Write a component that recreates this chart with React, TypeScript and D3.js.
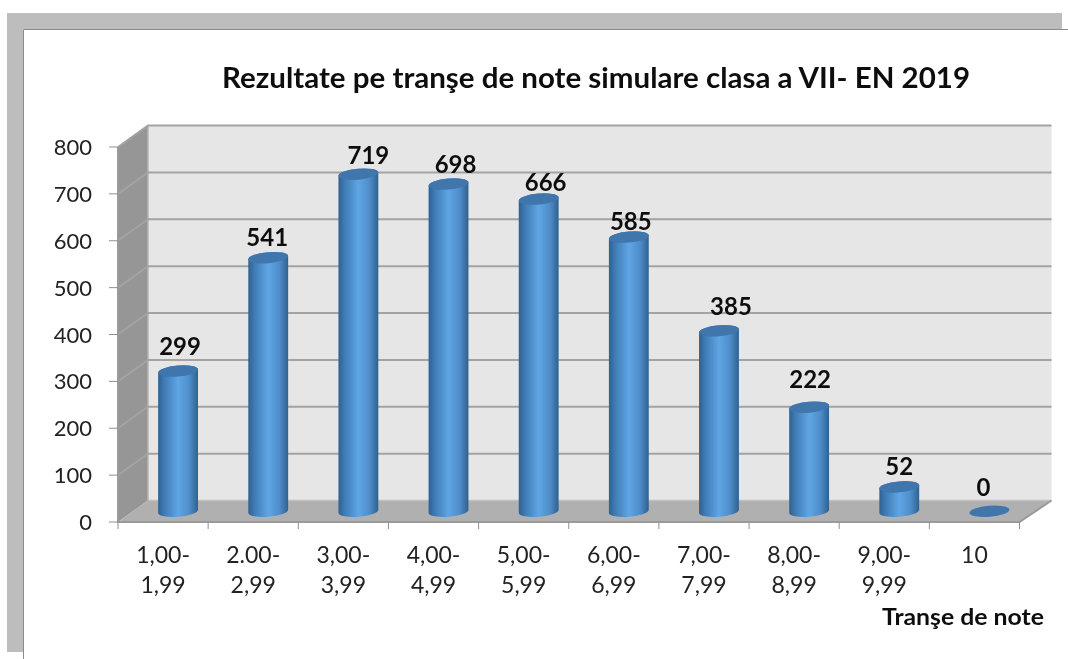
import React from "react";
import * as d3 from "d3";

const categories = ["1,00-|1,99", "2.00-|2,99", "3,00-|3,99", "4,00-|4,99", "5,00-|5,99", "6,00-|6,99", "7,00-|7,99", "8,00-|8,99", "9,00-|9,99", "10"];
const values = [299, 541, 719, 698, 666, 585, 385, 222, 52, 0];
const yTicks = [0, 100, 200, 300, 400, 500, 600, 700, 800];
const title = "Rezultate pe tranşe de note simulare clasa a VII- EN 2019";
const xTitle = "Tranşe de note";

// the labels were placed by hand in the original, so they sit a bit off the bars
const labelNudge: [number, number][] = [
  [2, -16], [-1, -12], [10, -10.5], [7, -11], [7, -8.5],
  [2, -7.5], [12, -15.5], [1, -19], [0, -12], [-6, -15],
];

const W = 1068;
const H = 659;
const FONT = "Lato, 'Open Sans', sans-serif";

// 3D box offset from the front of the floor to the back wall
const DEPTH_X = 30;
const DEPTH_Y = -21.5;
const BAR_W = 40;
const RX = BAR_W / 2;
const RY = 5.5;
const TILT = -5;

const x = d3.scaleBand<number>().domain(d3.range(categories.length)).range([118, 1019.5]);
const y = d3.scaleLinear().domain([0, 800]).range([522, 147]);

const tiltRad = (TILT * Math.PI) / 180;
const ex = RX * Math.cos(tiltRad);
const ey = RX * Math.sin(tiltRad);

const cylinderBody = (cx: number, top: number, base: number) =>
  `M${cx - ex},${top - ey} L${cx - ex},${base - ey} ` +
  `A${RX},${RY} ${TILT} 0 0 ${cx + ex},${base + ey} ` +
  `L${cx + ex},${top + ey} ` +
  `A${RX},${RY} ${TILT} 0 0 ${cx - ex},${top - ey} Z`;

export default function App() {
  const x0 = x.range()[0];
  const x1 = x.range()[1];
  const y0 = y(0);
  const yTop = y(800);

  return (
    <svg width={W} height={H} style={{ position: "absolute", left: 0, top: 0, background: "#fff" }}>
      <defs>
        <linearGradient id="barGrad" x1="0" x2="1" y1="0" y2="0">
          <stop offset="0" stopColor="#2f618f" />
          <stop offset="0.16" stopColor="#3f7cb6" />
          <stop offset="0.5" stopColor="#5fa5e4" />
          <stop offset="0.78" stopColor="#4f8dca" />
          <stop offset="1" stopColor="#2f618f" />
        </linearGradient>
        <filter id="soft" x="-2%" y="-2%" width="104%" height="104%">
          <feGaussianBlur stdDeviation="0.45" />
        </filter>
      </defs>

      <g filter="url(#soft)">
        {/* grey frame */}
        <path d="M7,13H1062V29H23V652H7Z" fill="#bdbdbd" />
        <path d="M23.5,659V29.5H1068" fill="none" stroke="#8c8c8c" strokeWidth={1} />

        {/* walls and floor */}
        <rect x={x0 + DEPTH_X} y={yTop + DEPTH_Y} width={x1 - x0 + 2} height={y0 - yTop} fill="#e6e6e6" />
        <polygon
          points={`${x0},${y0} ${x0 + DEPTH_X},${y0 + DEPTH_Y} ${x0 + DEPTH_X},${yTop + DEPTH_Y} ${x0},${yTop}`}
          fill="#969696"
        />
        <polygon
          points={`${x0},${y0} ${x0 + DEPTH_X},${y0 + DEPTH_Y} ${x1 + DEPTH_X + 2},${y0 + DEPTH_Y} ${x1},${y0}`}
          fill="#b0b0b0"
        />
        <line x1={x0 + DEPTH_X} x2={x0 + DEPTH_X} y1={yTop + DEPTH_Y} y2={y0 + DEPTH_Y} stroke="#b5b5b5" strokeWidth={1.5} />

        {/* gridlines */}
        {yTicks.map((t) => (
          <g key={t} fill="none" stroke="#a3a3a3">
            {t > 0 && (
              <path d={`M${x0},${y(t)} L${x0 + DEPTH_X},${y(t) + DEPTH_Y} H${x1 + DEPTH_X + 2}`} strokeWidth={2} />
            )}
            {t === 0 && <path d={`M${x0 + DEPTH_X},${y0 + DEPTH_Y} H${x1 + DEPTH_X + 2}`} strokeWidth={1.5} stroke="#c0c0c0" />}
          </g>
        ))}

        {/* axes */}
        <path d={`M${x0},${yTop} V${y0} H${x1} L${x1 + DEPTH_X + 2},${y0 + DEPTH_Y}`} fill="none" stroke="#9a9a9a" strokeWidth={2} />
        {yTicks.map((t) => (
          <line key={t} x1={x0 - 9} x2={x0} y1={y(t)} y2={y(t)} stroke="#8f8f8f" strokeWidth={1} />
        ))}
        {d3.range(categories.length + 1).map((i) => (
          <line
            key={i}
            x1={x0 + i * x.bandwidth()}
            x2={x0 + i * x.bandwidth()}
            y1={y0}
            y2={y0 + 7}
            stroke="#8f8f8f"
            strokeWidth={1}
          />
        ))}

        {/* cylinders */}
        {values.map((v, i) => {
          const cx = x(i)! + x.bandwidth() / 2 + DEPTH_X / 2;
          const base = y(0) + DEPTH_Y / 2;
          const top = y(v) + DEPTH_Y / 2;
          return (
            <g key={i}>
              {v > 0 && <path d={cylinderBody(cx, top, base)} fill="url(#barGrad)" />}
              <ellipse cx={cx} cy={top} rx={RX} ry={RY} transform={`rotate(${TILT} ${cx} ${top})`} fill="#3f76ab" />
            </g>
          );
        })}

        {/* value labels */}
        {values.map((v, i) => {
          const cx = x(i)! + x.bandwidth() / 2 + DEPTH_X / 2;
          const top = y(v) + DEPTH_Y / 2;
          return (
            <text
              key={i}
              x={cx + labelNudge[i][0]}
              y={top + labelNudge[i][1]}
              textAnchor="middle"
              fontFamily={FONT}
              fontWeight={700}
              fontSize={24}
              fill="#111"
            >
              {v}
            </text>
          );
        })}

        {/* y tick labels */}
        {yTicks.map((t) => (
          <text key={t} x={92} y={y(t) + 8} textAnchor="end" fontFamily={FONT} fontSize={22} fill="#222">
            {t}
          </text>
        ))}

        {/* category labels */}
        {categories.map((c, i) => {
          const cx = x(i)! + x.bandwidth() / 2;
          return (
            <text key={i} textAnchor="middle" fontFamily={FONT} fontSize={23} fill="#222">
              {c.split("|").map((line, k) => (
                <tspan key={k} x={cx} y={563 + k * 30}>
                  {line}
                </tspan>
              ))}
            </text>
          );
        })}

        <text
          x={222}
          y={88}
          fontFamily={FONT}
          fontWeight={700}
          fontSize={28}
          fill="#111"
          textLength={748}
          lengthAdjust="spacingAndGlyphs"
        >
          {title}
        </text>
        <text
          x={882}
          y={625}
          fontFamily={FONT}
          fontWeight={700}
          fontSize={22}
          fill="#111"
          textLength={162}
          lengthAdjust="spacingAndGlyphs"
        >
          {xTitle}
        </text>
      </g>
    </svg>
  );
}
